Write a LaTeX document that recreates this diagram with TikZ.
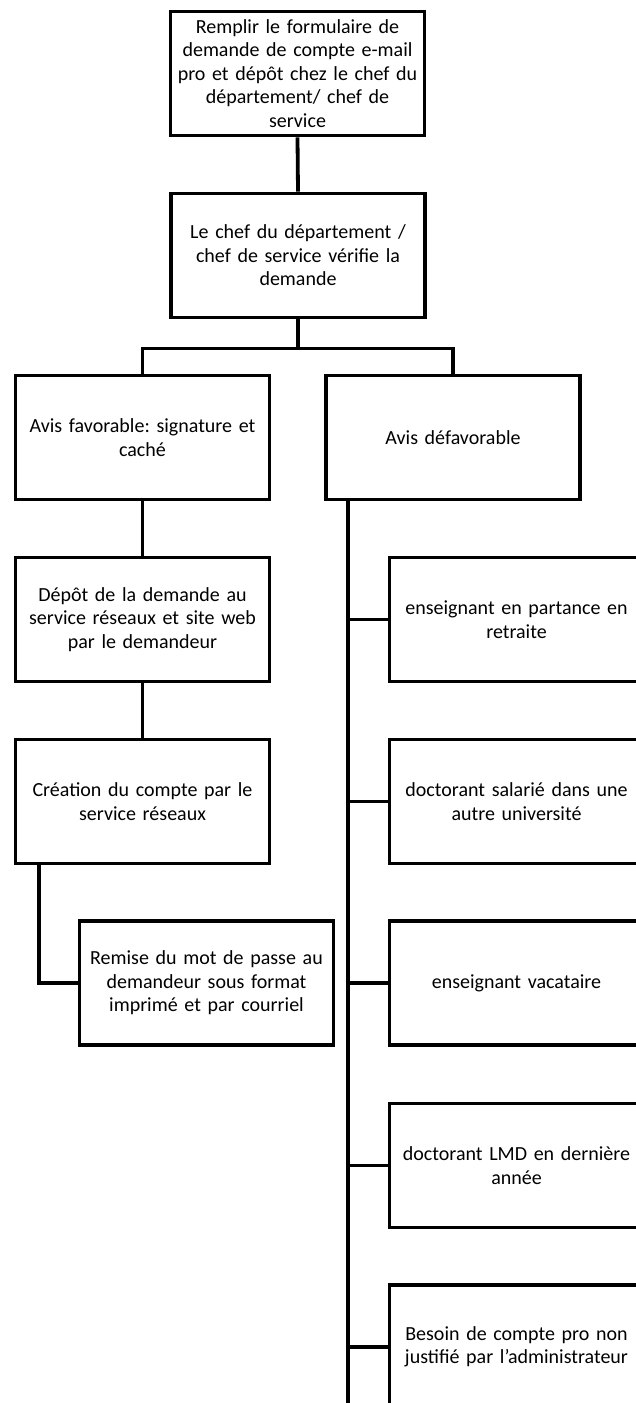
\documentclass[tikz,border=0pt]{standalone}
\usepackage{fontspec}
\setmainfont{Carlito}
\frenchspacing
\begin{document}
\begin{tikzpicture}[x=1pt,y=-1pt,
  box/.style={draw, line width=3.8pt, rectangle, minimum width=254pt, minimum height=124pt,
    inner sep=0pt, text width=252pt, align=center,
    font=\fontsize{20}{23.5}\selectfont},
  conn/.style={line width=3.8pt}]
\useasboundingbox (0,0) rectangle (636,1403);
\clip (0,0) rectangle (636,1403);
\node[box] (b1) at (297.5,73.5) {Remplir le formulaire de\\demande de compte e-mail\\pro et dépôt chez le chef du\\département/ chef de\\service};
\node[box] (b2) at (298,255.5) {Le chef du département /\\chef de service vérifie la\\demande};
\node[box] (fav) at (142.5,437.5) {Avis favorable: signature et\\caché};
\node[box] (def) at (453,437.5) {Avis défavorable};
\node[box] (depot) at (142.5,619.5) {Dépôt de la demande au\\service réseaux et site web\\par le demandeur};
\node[box] (crea) at (142.5,801.5) {Création du compte par le\\service réseaux};
\node[box] (remise) at (206.5,983) {Remise du mot de passe au\\demandeur sous format\\imprimé et par courriel};
\node[box] (ens) at (516.5,619.5) {enseignant en partance en\\retraite};
\node[box] (doc) at (516.5,801.5) {doctorant salarié dans une\\autre université};
\node[box] (vac) at (516.5,983) {enseignant vacataire};
\node[box] (lmd) at (516.5,1165.5) {doctorant LMD en dernière\\année};
\node[box] (bes) at (516.5,1347) {Besoin de compte pro non\\justifié par l’administrateur};
\draw[conn] (b1.south) -- (b2.north);
\draw[conn] (b2.south) -- ++(0,29) coordinate (j);
\draw[conn] (fav.north) |- (j) -| (def.north);
\draw[conn] (fav.south) -- (depot.north);
\draw[conn] (depot.south) -- (crea.north);
\coordinate (c1) at ([xshift=25pt]crea.south west);
\draw[conn] (c1) |- (remise.west);
\coordinate (d1) at ([xshift=24pt]def.south west);
\coordinate (dend) at (350,1420);
\draw[conn] (d1) -- (d1 |- dend);
\draw[conn] (ens.west) -- (ens.west -| d1);
\draw[conn] (doc.west) -- (doc.west -| d1);
\draw[conn] (vac.west) -- (vac.west -| d1);
\draw[conn] (lmd.west) -- (lmd.west -| d1);
\draw[conn] (bes.west) -- (bes.west -| d1);
\end{tikzpicture}
\end{document}
